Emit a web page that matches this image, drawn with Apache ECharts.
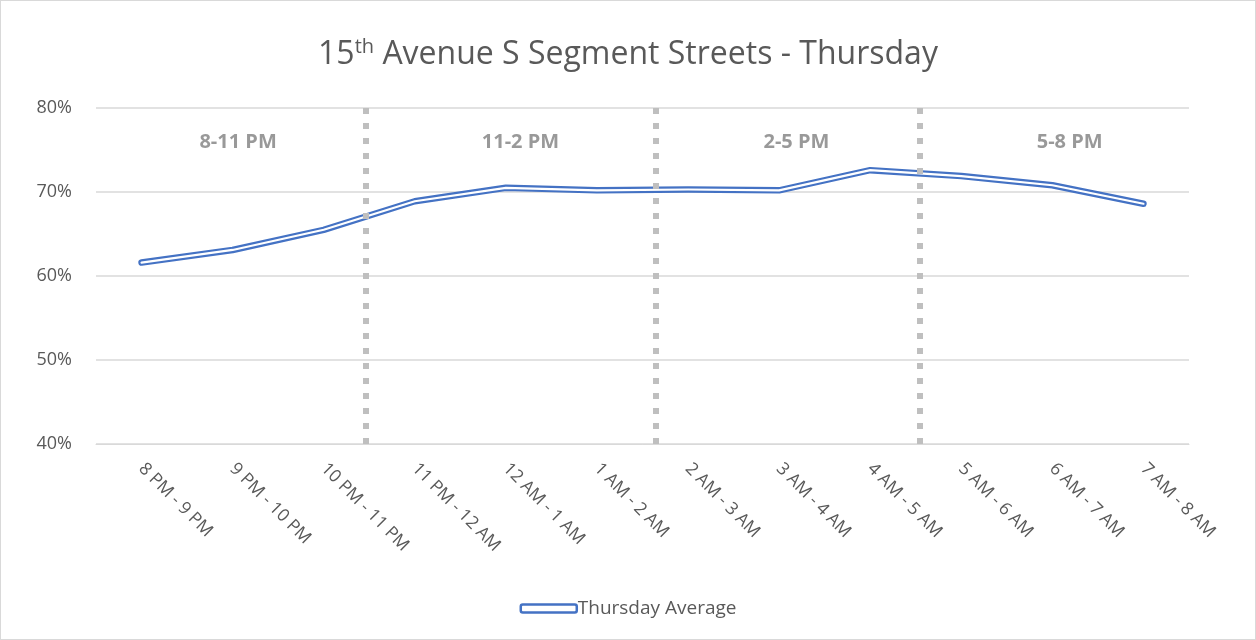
<!DOCTYPE html>
<html>
<head>
<meta charset="utf-8">
<script src="https://cdn.jsdelivr.net/npm/echarts@6/dist/echarts.min.js"></script>
<style>
  html, body { margin: 0; padding: 0; background: #fff; }
  #chart { width: 1254px; height: 638px; border: 1px solid #D9D9D9; }
</style>
</head>
<body>
<div id="chart"></div>
<script>
  // hourly categories
  const hours = ['8 PM - 9 PM', '9 PM - 10 PM', '10 PM - 11 PM', '11 PM - 12 AM', '12 AM - 1 AM', '1 AM - 2 AM',
    '2 AM - 3 AM', '3 AM - 4 AM', '4 AM - 5 AM', '5 AM - 6 AM', '6 AM - 7 AM', '7 AM - 8 AM']
  // Thursday average occupancy (%)
  const thursdayAvg = [61.6, 63.1, 65.5, 68.9, 70.5, 70.2, 70.3, 70.2, 72.6, 71.9, 70.8, 68.6]
  // shift dividers, in category-index units
  const dividers = [2.46, 5.64, 8.54]
  const sectionNames = ['8-11 PM', '11-2 PM', '2-5 PM', '5-8 PM']
  const sectionX = [1.06, 4.16, 7.19, 10.19]
  const sectionY = 75.9
  const yTicks = [40, 50, 60, 70, 80]

  const font = 'Open Sans'
  let chart = echarts.init(document.getElementById('chart'))
  chart.setOption({
    animation: false,
    textStyle: { fontFamily: font },
    title: {
      text: '15{sup|th} Avenue S Segment Streets - Thursday',
      left: 'center',
      top: 31,
      textStyle: {
        fontSize: 32, fontWeight: 'normal', color: '#595959', fontFamily: font,
        rich: { sup: { fontSize: 20, verticalAlign: 'top', color: '#595959', padding: [0, 0, 16, 0], fontFamily: font } }
      }
    },
    grid: { left: 95, right: 66, top: 107, bottom: 195, containLabel: false },
    legend: {
      bottom: 16,
      left: 'center',
      itemWidth: 56,
      itemHeight: 8,
      itemGap: 0,
      textStyle: { fontSize: 19, color: '#595959', padding: [0, 0, 0, -4] },
      data: [{ name: 'Thursday Average', icon: 'roundRect', itemStyle: { color: '#fff', borderColor: '#4472C4', borderWidth: 2.5 } }]
    },
    xAxis: [
      {
        type: 'category',
        data: hours,
        boundaryGap: true,
        axisLine: { lineStyle: { color: '#D9D9D9' } },
        axisTick: { show: false },
        axisLabel: { rotate: -45, color: '#595959', fontSize: 17.5, margin: 22, interval: 0 }
      },
      { type: 'value', min: -0.5, max: 11.5, show: false }
    ],
    yAxis: {
      type: 'value',
      min: yTicks[0],
      max: yTicks[yTicks.length - 1],
      interval: 10,
      axisLine: { show: false },
      axisTick: { show: false },
      axisLabel: { formatter: '{value}%', color: '#595959', fontSize: 18, margin: 24 },
      splitLine: { lineStyle: { color: '#D9D9D9', width: 1.5 } }
    },
    series: [
      {
        name: 'Thursday Average',
        type: 'line',
        data: thursdayAvg,
        symbol: 'none',
        z: 2,
        lineStyle: { color: '#4472C4', width: 6.5, cap: 'round', join: 'round' },
        itemStyle: { color: '#4472C4' }
      },
      {
        name: 'Thursday Average',
        type: 'line',
        data: thursdayAvg,
        symbol: 'none',
        z: 3,
        lineStyle: { color: '#fff', width: 2.2, cap: 'round', join: 'round' },
        itemStyle: { color: '#fff' }
      },
      {
        name: 'dividers',
        type: 'scatter',
        xAxisIndex: 1,
        z: 5,
        symbolSize: 0,
        data: sectionNames.map((n, i) => ({ name: n, value: [sectionX[i], sectionY] })),
        label: {
          show: true, position: 'inside', formatter: '{b}',
          fontSize: 20, fontWeight: 'bold', color: '#7F7F7F'
        },
        markLine: {
          silent: true,
          symbol: 'none',
          label: { show: false },
          lineStyle: { color: '#BFBFBF', width: 6, type: [6, 9] },
          data: dividers.map(d => ({ xAxis: d }))
        }
      }
    ]
  })
</script>
</body>
</html>
